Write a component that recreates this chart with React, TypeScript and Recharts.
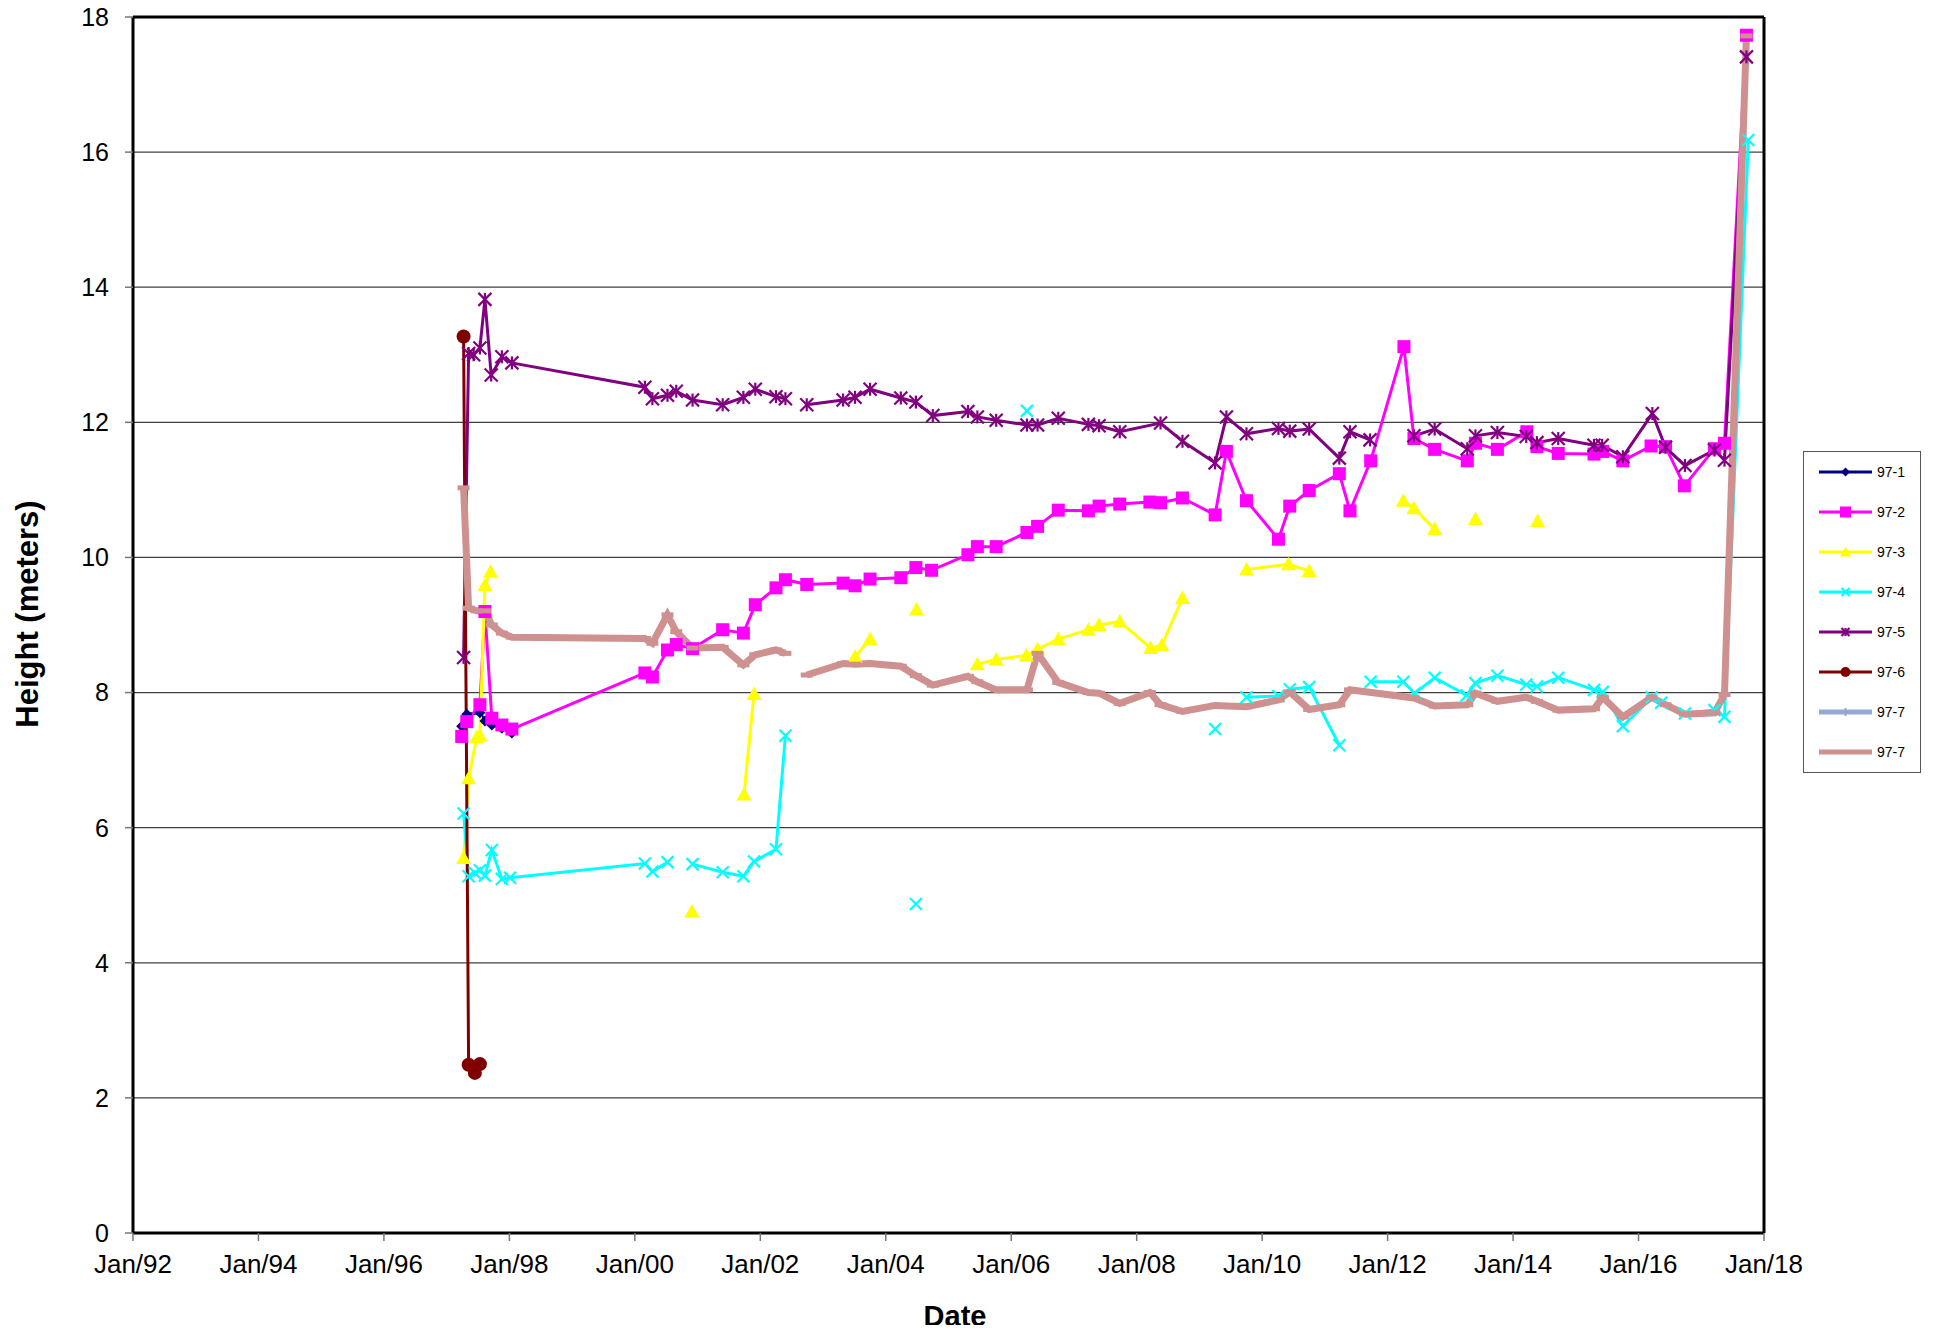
import React from "react";
import { LineChart, Line, XAxis, YAxis, CartesianGrid, ReferenceLine, Legend, Customized } from "recharts";

type Pt = [number, number | null];

// dates are decimal years, values are metres
const well971: Pt[] = [
  [1997.24, 7.5], [1997.32, 7.68], [1997.53, 7.7], [1997.61, 7.58], [1997.72, 7.52], [1997.88, 7.47], [1998.04, 7.4],
];

const well972: Pt[] = [
  [1997.24, 7.35], [1997.32, 7.57], [1997.53, 7.82], [1997.61, 9.2], [1997.72, 7.62], [1997.88, 7.52], [1998.04, 7.46],
  [2000.16, 8.29], [2000.28, 8.23], [2000.52, 8.63], [2000.66, 8.71], [2000.92, 8.65], [2001.4, 8.93], [2001.73, 8.88],
  [2001.92, 9.3], [2002.25, 9.55], [2002.4, 9.67], [2002.74, 9.6], [2003.32, 9.62], [2003.51, 9.58], [2003.75, 9.68],
  [2004.24, 9.7], [2004.48, 9.85], [2004.73, 9.81], [2005.31, 10.04], [2005.46, 10.16], [2005.76, 10.16], [2006.25, 10.37],
  [2006.42, 10.46], [2006.75, 10.7], [2007.23, 10.69], [2007.4, 10.76], [2007.73, 10.79], [2008.21, 10.82], [2008.38, 10.81],
  [2008.73, 10.88], [2009.25, 10.63], [2009.43, 11.57], [2009.75, 10.84], [2010.26, 10.27], [2010.44, 10.76], [2010.75, 10.99],
  [2011.23, 11.24], [2011.4, 10.69], [2011.73, 11.43], [2012.26, 13.12], [2012.42, 11.76], [2012.75, 11.6], [2013.27, 11.43],
  [2013.4, 11.69], [2013.75, 11.6], [2014.22, 11.86], [2014.38, 11.64], [2014.72, 11.54], [2015.29, 11.53], [2015.43, 11.57],
  [2015.75, 11.43], [2016.2, 11.65], [2016.43, 11.64], [2016.73, 11.06], [2017.21, 11.61], [2017.37, 11.69], [2017.72, 17.73],
];

const well973: Pt[] = [
  [1997.27, 5.55], [1997.35, 6.73], [1997.48, 7.34], [1997.53, 7.36], [1997.61, 9.59], [1997.7, 9.79], [1998.0, null],
  [2000.91, 4.76], [2001.2, null], [2001.74, 6.49], [2001.9, 7.98], [2002.5, null], [2003.51, 8.53], [2003.75, 8.79],
  [2004.2, null], [2004.49, 9.23], [2005.0, null], [2005.46, 8.42], [2005.76, 8.49], [2006.24, 8.55], [2006.42, 8.64],
  [2006.75, 8.79], [2007.23, 8.93], [2007.4, 9.0], [2007.73, 9.05], [2008.22, 8.66], [2008.4, 8.7], [2008.73, 9.4],
  [2009.3, null], [2009.75, 9.82], [2010.42, 9.9], [2010.75, 9.8], [2011.5, null], [2012.25, 10.84], [2012.42, 10.73],
  [2012.75, 10.42], [2013.1, null], [2013.4, 10.57], [2013.9, null], [2014.39, 10.54],
];

const well974: Pt[] = [
  [1997.27, 6.21], [1997.35, 5.28], [1997.45, 5.33], [1997.53, 5.37], [1997.61, 5.29], [1997.72, 5.67], [1997.88, 5.24],
  [1998.01, 5.26], [2000.16, 5.47], [2000.28, 5.35], [2000.52, 5.49], [2000.7, null], [2000.92, 5.46], [2001.4, 5.34],
  [2001.73, 5.28], [2001.9, 5.5], [2002.25, 5.68], [2002.4, 7.36], [2003.0, null], [2004.48, 4.87], [2005.0, null],
  [2006.25, 12.17], [2007.0, null], [2009.25, 7.46], [2009.5, null], [2009.75, 7.93], [2010.26, 7.95], [2010.44, 8.05],
  [2010.75, 8.08], [2011.23, 7.22], [2011.5, null], [2011.73, 8.16], [2012.25, 8.16], [2012.43, 7.99], [2012.75, 8.22],
  [2013.26, 7.96], [2013.4, 8.14], [2013.75, 8.25], [2014.21, 8.12], [2014.38, 8.09], [2014.72, 8.22], [2015.29, 8.04],
  [2015.43, 8.01], [2015.75, 7.5], [2016.21, 7.93], [2016.36, 7.85], [2016.74, 7.69], [2017.21, 7.74], [2017.37, 7.64],
  [2017.75, 16.18],
];

const well975: Pt[] = [
  [1997.27, 8.52], [1997.35, 13.02], [1997.43, 13.0], [1997.53, 13.1], [1997.61, 13.82], [1997.71, 12.7], [1997.88, 12.97],
  [1998.04, 12.88], [2000.16, 12.52], [2000.28, 12.35], [2000.52, 12.4], [2000.66, 12.46], [2000.92, 12.33], [2001.4, 12.26],
  [2001.73, 12.37], [2001.92, 12.49], [2002.25, 12.38], [2002.4, 12.35], [2002.6, null], [2002.74, 12.26], [2003.32, 12.33],
  [2003.51, 12.37], [2003.75, 12.49], [2004.24, 12.36], [2004.48, 12.3], [2004.75, 12.1], [2005.31, 12.16], [2005.46, 12.08],
  [2005.76, 12.03], [2006.25, 11.96], [2006.42, 11.96], [2006.75, 12.06], [2007.23, 11.97], [2007.4, 11.95], [2007.73, 11.86],
  [2008.38, 11.99], [2008.73, 11.72], [2009.25, 11.4], [2009.43, 12.08], [2009.75, 11.83], [2010.26, 11.91], [2010.44, 11.87],
  [2010.75, 11.9], [2011.23, 11.47], [2011.4, 11.86], [2011.72, 11.74], [2012.1, null], [2012.42, 11.8], [2012.75, 11.9],
  [2013.27, 11.61], [2013.4, 11.8], [2013.75, 11.85], [2014.21, 11.79], [2014.38, 11.7], [2014.72, 11.76], [2015.29, 11.66],
  [2015.42, 11.66], [2015.75, 11.49], [2016.22, 12.13], [2016.43, 11.63], [2016.74, 11.36], [2017.21, 11.59], [2017.37, 11.44],
  [2017.72, 17.41],
];

const well976: Pt[] = [[1997.27, 13.27], [1997.35, 2.49], [1997.45, 2.37], [1997.53, 2.5]];

const well977: Pt[] = [
  [1997.27, 11.03], [1997.35, 9.25], [1997.48, 9.21], [1997.61, 9.21], [1997.72, 9.0], [1997.88, 8.88], [1998.04, 8.82],
  [2000.16, 8.8], [2000.28, 8.73], [2000.52, 9.15], [2000.66, 8.9], [2000.92, 8.66], [2001.4, 8.67], [2001.73, 8.41],
  [2001.92, 8.56], [2002.25, 8.63], [2002.4, 8.58], [2002.6, null], [2002.74, 8.26], [2003.32, 8.43], [2003.51, 8.42],
  [2003.75, 8.43], [2004.24, 8.39], [2004.48, 8.25], [2004.75, 8.11], [2005.31, 8.24], [2005.46, 8.16], [2005.76, 8.04],
  [2006.25, 8.04], [2006.42, 8.58], [2006.75, 8.15], [2007.23, 8.0], [2007.4, 7.99], [2007.73, 7.84], [2008.21, 8.0],
  [2008.38, 7.82], [2008.73, 7.72], [2009.25, 7.81], [2009.75, 7.79], [2010.26, 7.89], [2010.44, 8.01], [2010.75, 7.75],
  [2011.23, 7.82], [2011.4, 8.04], [2012.42, 7.92], [2012.75, 7.8], [2013.27, 7.82], [2013.4, 7.99], [2013.75, 7.87],
  [2014.21, 7.93], [2014.38, 7.87], [2014.72, 7.74], [2015.29, 7.76], [2015.43, 7.93], [2015.75, 7.64], [2016.21, 7.93],
  [2016.43, 7.82], [2016.74, 7.68], [2017.21, 7.7], [2017.37, 7.97], [2017.72, 17.72],
];

const yTicks = [0, 2, 4, 6, 8, 10, 12, 14, 16, 18];
const xTicks = [1992, 1994, 1996, 1998, 2000, 2002, 2004, 2006, 2008, 2010, 2012, 2014, 2016, 2018];
const xTickLabels = ["Jan/92", "Jan/94", "Jan/96", "Jan/98", "Jan/00", "Jan/02", "Jan/04", "Jan/06", "Jan/08", "Jan/10", "Jan/12", "Jan/14", "Jan/16", "Jan/18"];

const FONT = "'Liberation Sans', Arial, Helvetica, sans-serif";

const toRows = (pts: Pt[]) => pts.map(([x, y]) => ({ x, y }));

type Shape = "diamond" | "square" | "triangle" | "x" | "star" | "circle" | "plus" | "dash" | "none";

function marker(shape: Shape, cx: number, cy: number, color: string, s: number, key?: string | number) {
  const h = s / 2;
  switch (shape) {
    case "diamond":
      return <polygon key={key} points={`${cx},${cy - h} ${cx + h},${cy} ${cx},${cy + h} ${cx - h},${cy}`} fill={color} />;
    case "square":
      return <rect key={key} x={cx - h} y={cy - h} width={s} height={s} fill={color} />;
    case "triangle":
      return <polygon key={key} points={`${cx},${cy - h} ${cx + h},${cy + h * 0.8} ${cx - h},${cy + h * 0.8}`} fill={color} />;
    case "x":
      return (
        <g key={key} stroke={color} strokeWidth={2.2}>
          <line x1={cx - h} y1={cy - h} x2={cx + h} y2={cy + h} />
          <line x1={cx - h} y1={cy + h} x2={cx + h} y2={cy - h} />
        </g>
      );
    case "star":
      return (
        <g key={key} stroke={color} strokeWidth={2.2}>
          <line x1={cx - h} y1={cy - h} x2={cx + h} y2={cy + h} />
          <line x1={cx - h} y1={cy + h} x2={cx + h} y2={cy - h} />
          <line x1={cx} y1={cy - h} x2={cx} y2={cy + h} />
        </g>
      );
    case "circle":
      return <circle key={key} cx={cx} cy={cy} r={h} fill={color} />;
    case "plus":
      return (
        <g key={key} stroke={color} strokeWidth={2}>
          <line x1={cx - h} y1={cy} x2={cx + h} y2={cy} />
          <line x1={cx} y1={cy - h} x2={cx} y2={cy + h} />
        </g>
      );
    case "dash":
      return <line key={key} x1={cx - h} y1={cy} x2={cx + h} y2={cy} stroke={color} strokeWidth={5} />;
    default:
      return <g key={key} />;
  }
}

const dotFor = (shape: Shape, color: string, size: number) => (props: any) => {
  const { cx, cy, index } = props;
  if (cx == null || cy == null || props.value == null) return <g key={`d-${index}`} />;
  return marker(shape, cx, cy, color, size, `d-${index}`);
};

const series = [
  { name: "97-1", pts: well971, color: "#000080", width: 3, shape: "diamond" as Shape, size: 11, legendShape: "diamond" as Shape },
  { name: "97-2", pts: well972, color: "#FF00FF", width: 3, shape: "square" as Shape, size: 13, legendShape: "square" as Shape },
  { name: "97-3", pts: well973, color: "#FFFF00", width: 3, shape: "triangle" as Shape, size: 15, legendShape: "triangle" as Shape },
  { name: "97-4", pts: well974, color: "#00FFFF", width: 3, shape: "x" as Shape, size: 12, legendShape: "x" as Shape },
  { name: "97-5", pts: well975, color: "#800080", width: 3, shape: "star" as Shape, size: 13, legendShape: "star" as Shape },
  { name: "97-6", pts: well976, color: "#800000", width: 3, shape: "circle" as Shape, size: 14, legendShape: "circle" as Shape },
  { name: "97-7", pts: well977, color: "#93A9D1", width: 5, shape: "none" as Shape, size: 8, legendShape: "plus" as Shape },
  { name: "97-7", pts: well977, color: "#CF9090", width: 7, shape: "dash" as Shape, size: 12, legendShape: "none" as Shape },
];

const legendMarkerSize: Record<string, number> = { diamond: 9, square: 11, triangle: 11, x: 8, star: 8, circle: 10, plus: 8, none: 0, dash: 0 };

function ChartLegend() {
  return (
    <div
      style={{
        width: 118,
        height: 322,
        boxSizing: "border-box",
        border: "1.5px solid #555",
        background: "#fff",
        fontFamily: FONT,
        fontSize: 14,
        color: "#000",
      }}
    >
      {series.map((s, i) => (
        <div key={i} style={{ height: 40, display: "flex", alignItems: "center" }}>
          <svg width={70} height={20} style={{ display: "block" }}>
            <line x1={15} y1={10} x2={68} y2={10} stroke={s.color} strokeWidth={s.width >= 5 ? 5 : 3} />
            {marker(s.legendShape, 41.5, 10, s.color, legendMarkerSize[s.legendShape])}
          </svg>
          <span style={{ marginLeft: 3 }}>{s.name}</span>
        </div>
      ))}
    </div>
  );
}

function Titles() {
  return (
    <g fontFamily={FONT} fontWeight="bold" fill="#000">
      {/* the chart title sits above the top edge of the picture; only its descender shows */}
      <text x={1372} y={-3} textAnchor="end" fontSize={54}>
        97 Series Well Water Height
      </text>
      <text x={955} y={1326} textAnchor="middle" fontSize={29}>
        Date
      </text>
      <text x={27} y={614} textAnchor="middle" dominantBaseline="central" fontSize={31} transform="rotate(-90 27 614)">
        Height (meters)
      </text>
    </g>
  );
}

export default function App() {
  return (
    <div style={{ width: 1937, height: 1333, margin: "-8px 0 -8px -8px", position: "relative", background: "#fff" }}>
      <LineChart width={1937} height={1333} margin={{ top: 17, right: 173, left: 0, bottom: 0 }}>
        <CartesianGrid vertical={false} stroke="#404040" strokeWidth={1.3} />
        <XAxis
          type="number"
          dataKey="x"
          domain={[1992, 2018]}
          ticks={xTicks}
          interval={0}
          allowDataOverflow
          tickFormatter={(v: number) => xTickLabels[xTicks.indexOf(v)] ?? ""}
          height={100}
          tickSize={8}
          tickMargin={14}
          axisLine={{ stroke: "#000", strokeWidth: 3 }}
          tickLine={{ stroke: "#777", strokeWidth: 1.5 }}
          tick={{ fill: "#000", fontSize: 26, fontFamily: FONT }}
        />
        <YAxis
          type="number"
          domain={[0, 18]}
          ticks={yTicks}
          interval={0}
          allowDataOverflow
          width={133}
          tickSize={8}
          tickMargin={16}
          axisLine={{ stroke: "#000", strokeWidth: 3 }}
          tickLine={{ stroke: "#777", strokeWidth: 1.5 }}
          tick={{ fill: "#000", fontSize: 25, fontFamily: FONT }}
        />
        <ReferenceLine y={18} stroke="#000" strokeWidth={3} />
        <ReferenceLine x={2018} stroke="#000" strokeWidth={3} />
        {series.map((s, i) => (
          <Line
            key={i}
            name={s.name}
            data={toRows(s.pts)}
            dataKey="y"
            type="linear"
            stroke={s.color}
            strokeWidth={s.width}
            dot={s.shape === "none" ? false : dotFor(s.shape, s.color, s.size)}
            activeDot={false}
            connectNulls={false}
            isAnimationActive={false}
            legendType="none"
          />
        ))}
        <Legend
          layout="vertical"
          align="center"
          verticalAlign="middle"
          content={() => <ChartLegend />}
          wrapperStyle={{ left: 1803, top: 451, width: 118, height: 322 }}
        />
        <Customized component={Titles} />
      </LineChart>
    </div>
  );
}
